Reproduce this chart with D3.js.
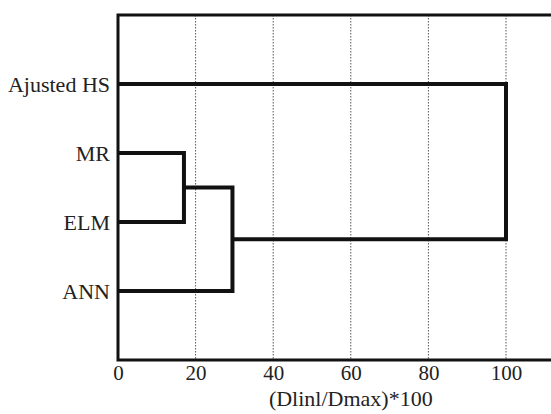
<!DOCTYPE html>
<html lang="en">
<head>
    <meta charset="UTF-8">
    <title>Dendrogram</title>
    <script src="https://d3js.org/d3.v7.min.js"></script>
    <style>
        body { margin: 0; background: #fff; }
        svg text { font-family: "Liberation Serif", "DejaVu Serif", serif !important; fill: #222; }
    </style>
</head>
<body>
    <svg id="chart"></svg>
    <script>
        const width = 551;
        const height = 414;

        // leaves, top to bottom
        const leaves = ["Ajusted HS", "MR", "ELM", "ANN"];
        // merges: [left child, right child, distance]
        const merges = [
            ["MR", "ELM", 17],
            ["MR+ELM", "ANN", 29.5],
            ["Ajusted HS", "MR+ELM+ANN", 100]
        ];
        const xTicks = [0, 20, 40, 60, 80, 100];
        const xTitle = "(Dlinl/Dmax)*100";

        const margin = { top: 15, left: 118, bottom: 54 };
        const svg = d3.select("#chart")
            .attr("width", width)
            .attr("height", height);

        const x = d3.scaleLinear().domain([0, 120]).range([margin.left, margin.left + 3.88 * 120]);
        const y = d3.scalePoint().domain(["_top", ...leaves, "_bot"])
            .range([margin.top, height - margin.bottom]);

        // grid
        svg.append("g")
            .selectAll("line")
            .data(xTicks.filter(d => d > 0))
            .enter()
            .append("line")
            .attr("x1", d => x(d)).attr("x2", d => x(d))
            .attr("y1", y("_top")).attr("y2", y("_bot"))
            .attr("stroke", "#555")
            .attr("stroke-width", 1)
            .attr("stroke-dasharray", "1.5,1.5");

        // node positions
        const pos = {};
        leaves.forEach(l => pos[l] = { x: x(0), y: y(l) });

        const links = [];
        merges.forEach(([a, b, h]) => {
            const xm = x(h);
            const pa = pos[a], pb = pos[b];
            links.push([[pa.x, pa.y], [xm, pa.y], [xm, pb.y], [pb.x, pb.y]]);
            pos[a + "+" + b] = { x: xm, y: (pa.y + pb.y) / 2 };
        });

        svg.append("g")
            .selectAll("path")
            .data(links)
            .enter()
            .append("path")
            .attr("d", d3.line())
            .attr("fill", "none")
            .attr("stroke", "#111")
            .attr("stroke-width", 4)
            .attr("stroke-linejoin", "miter");

        // frame: left, top, bottom
        const frame = svg.append("g").attr("stroke", "#111").attr("stroke-width", 3).attr("fill", "none");
        frame.append("path")
            .attr("d", d3.line()([[width + 5, y("_top")], [x(0), y("_top")], [x(0), y("_bot")], [width + 5, y("_bot")]]));

        // x axis labels
        const xAxis = svg.append("g")
            .attr("transform", `translate(0,${y("_bot")})`)
            .call(d3.axisBottom(x).tickValues(xTicks).tickSize(0).tickPadding(5));
        xAxis.select(".domain").remove();
        xAxis.attr("font-family", null);
        xAxis.selectAll("text").style("font-size", "21px").attr("fill", "#222");

        // y labels
        const yAxis = svg.append("g")
            .attr("transform", `translate(${x(0)},0)`)
            .call(d3.axisLeft(y).tickValues(leaves).tickSize(0).tickPadding(8));
        yAxis.select(".domain").remove();
        yAxis.attr("font-family", null);
        yAxis.selectAll("text").style("font-size", "22px").attr("fill", "#222");

        svg.append("text")
            .attr("x", x(60))
            .attr("y", 406)
            .attr("text-anchor", "middle")
            .style("font-size", "22px")
            .text(xTitle);
    </script>
</body>
</html>
